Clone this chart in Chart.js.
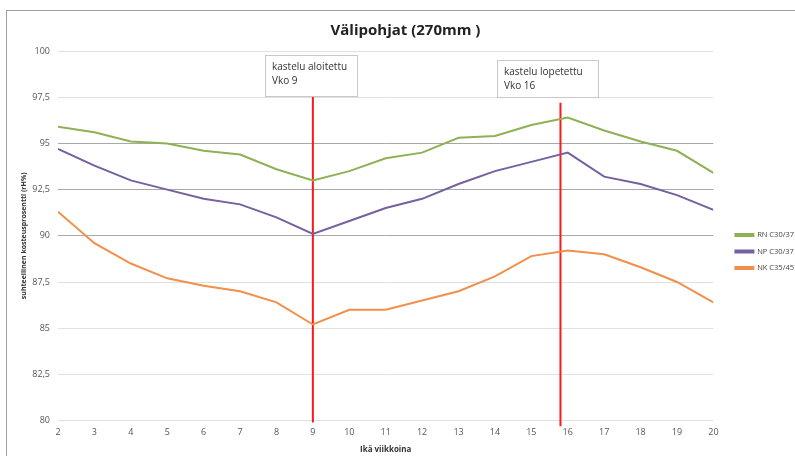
<!DOCTYPE html>
<html>
<head>
<meta charset="utf-8">
<script src="https://cdn.jsdelivr.net/npm/chart.js@4.4.1/dist/chart.umd.min.js"></script>
<style>
  html, body { margin: 0; padding: 0; background: #fff; }
  #wrap { position: relative; width: 795px; height: 456px; overflow: hidden; }
  #frame { position: absolute; left: 6px; top: 10px; width: 820px; height: 480px; border: 1px solid #a0a0a0; }
  canvas { position: absolute; left: 0; top: 0; }
</style>
</head>
<body>
<div id="wrap">
  <div id="frame"></div>
  <canvas id="chart" width="795" height="456"></canvas>
</div>
<script>
// weeks on x axis
const weeks = [2, 3, 4, 5, 6, 7, 8, 9, 10, 11, 12, 13, 14, 15, 16, 17, 18, 19, 20];

// relative humidity per series (rH%)
const rnValues = [95.9, 95.6, 95.1, 95.0, 94.6, 94.4, 93.6, 93.0, 93.5, 94.2, 94.5, 95.3, 95.4, 96.0, 96.4, 95.7, 95.1, 94.6, 93.4];
const npValues = [94.7, 93.8, 93.0, 92.5, 92.0, 91.7, 91.0, 90.1, 90.8, 91.5, 92.0, 92.8, 93.5, 94.0, 94.5, 93.2, 92.8, 92.2, 91.4];
const nkValues = [91.3, 89.6, 88.5, 87.7, 87.3, 87.0, 86.4, 85.2, 86.0, 86.0, 86.5, 87.0, 87.8, 88.9, 89.2, 89.0, 88.3, 87.5, 86.4];

const seriesNames = ['RN C30/37', 'NP C30/37', 'NK C35/45'];
const seriesColors = ['#8db255', '#7560a0', '#f0904a'];

// irrigation start / stop markers
const markerWeeks = [9, 15.8];
const markerTop = [97.6, 97.2];
const markerBottom = [79.9, 79.7];
const markerText = [['kastelu aloitettu', 'Vko 9'], ['kastelu lopetettu', 'Vko 16']];

const yTicks = [80, 82.5, 85, 87.5, 90, 92.5, 95, 97.5, 100];
const darkGrid = [90, 92.5, 95];

const fontFam = '"Open Sans", "Liberation Sans", sans-serif';

function toPoints(vals) {
    return vals.map((v, i) => ({ x: weeks[i], y: v }));
}

const datasets = [rnValues, npValues, nkValues].map((vals, i) => ({
    label: seriesNames[i],
    data: toPoints(vals),
    borderColor: seriesColors[i],
    backgroundColor: seriesColors[i],
    borderWidth: 2,
    pointRadius: 0,
    tension: 0
}));

markerWeeks.forEach((w, i) => {
    datasets.push({
        label: 'marker' + i,
        data: [{ x: w, y: markerTop[i] }, { x: w, y: markerBottom[i] }],
        borderColor: '#ff1a1a',
        borderWidth: 2,
        pointRadius: 0,
        clip: false
    });
});

// Plugin: text boxes above the red lines
const notePlugin = {
    id: 'notes',
    afterDraw(chart) {
        const { ctx } = chart;
        const boxes = [
            { x: 265, y: 55, w: 92, h: 41 },
            { x: 497, y: 60, w: 101, h: 37 }
        ];
        boxes.forEach((b, i) => {
            ctx.save();
            ctx.fillStyle = '#fff';
            ctx.strokeStyle = '#c8c8c8';
            ctx.lineWidth = 1;
            ctx.fillRect(b.x, b.y, b.w, b.h);
            ctx.strokeRect(b.x + 0.5, b.y + 0.5, b.w, b.h);
            ctx.fillStyle = '#333';
            ctx.font = '10px ' + fontFam;
            ctx.textBaseline = 'middle';
            ctx.fillText(markerText[i][0], b.x + 7, b.y + 12);
            ctx.fillText(markerText[i][1], b.x + 7, b.y + 26);
            ctx.restore();
        });
    }
};

// Plugin: nudge the legend block down/right like the original
const legendShift = {
    id: 'legendShift',
    afterLayout(chart) {
        const lg = chart.legend;
        if (!lg) return;
        const dy = 24, dx = 13;
        lg.top += dy; lg.bottom += dy;
        lg.left += dx; lg.right += dx;
        lg.legendHitBoxes.forEach(h => { h.top += dy; h.left += dx; });
    }
};

new Chart(document.getElementById('chart'), {
    type: 'line',
    data: { datasets: datasets },
    options: {
        responsive: false,
        animation: false,
        layout: { padding: { left: 20, right: 4, top: 0, bottom: 1 } },
        plugins: {
            title: {
                display: true,
                text: 'Välipohjat (270mm )',
                color: '#222',
                font: { family: fontFam, size: 15, weight: 'bold' },
                padding: { top: 22, bottom: 11 }
            },
            legend: {
                position: 'right',
                align: 'center',
                labels: {
                    filter: item => item.datasetIndex < 3,
                    boxWidth: 18,
                    boxHeight: 2,
                    padding: 9,
                    color: '#444',
                    font: { family: fontFam, size: 7.5 }
                }
            },
            tooltip: { enabled: false }
        },
        scales: {
            x: {
                type: 'linear',
                min: 2,
                max: 20,
                ticks: { stepSize: 1, color: '#555', font: { family: fontFam, size: 9 }, padding: 6 },
                grid: { display: false, drawTicks: false },
                border: { display: false },
                title: {
                    display: true,
                    text: 'Ikä viikkoina',
                    color: '#333',
                    font: { family: fontFam, size: 8, weight: 'bold' },
                    padding: { top: 2, bottom: 0 }
                }
            },
            y: {
                min: 80,
                max: 100,
                afterBuildTicks: s => { s.ticks = yTicks.map(v => ({ value: v })); },
                afterFit: s => { s.width = 38; },
                ticks: {
                    color: '#555',
                    font: { family: fontFam, size: 9 },
                    padding: 8,
                    callback: v => String(v).replace('.', ',')
                },
                grid: {
                    color: c => darkGrid.includes(c.tick && c.tick.value) ? '#a8a8a8' : '#e0e0e0',
                    lineWidth: 1,
                    drawTicks: false
                },
                border: { display: false },
                title: {
                    display: true,
                    text: 'suhteellinen kosteusprosentti (rH%)',
                    color: '#333',
                    font: { family: fontFam, size: 7, weight: 'bold' },
                    padding: 0
                }
            }
        }
    },
    plugins: [notePlugin, legendShift]
});
</script>
</body>
</html>
